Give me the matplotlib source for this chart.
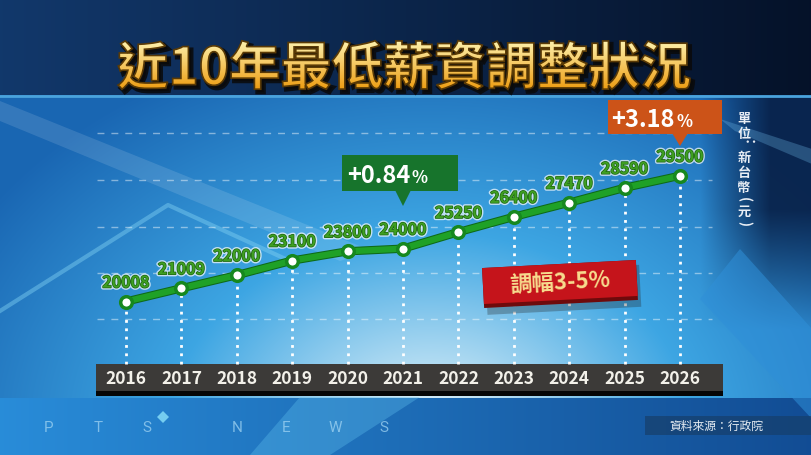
import numpy as np
import matplotlib
matplotlib.use("Agg")
import matplotlib.pyplot as plt
import matplotlib.patheffects as pe
from matplotlib.patches import Rectangle, Polygon, PathPatch
from matplotlib.textpath import TextPath
from matplotlib.font_manager import FontProperties
from matplotlib.transforms import Affine2D

plt.rcParams['font.family'] = ['Noto Sans CJK TC', 'DejaVu Sans']

# ---- data ----
years = [2016, 2017, 2018, 2019, 2020, 2021, 2022, 2023, 2024, 2025, 2026]
wages = [20008, 21009, 22000, 23100, 23800, 24000, 25250, 26400, 27470, 28590, 29500]
year_labels = [str(y) for y in years]

title = "近10年最低薪資調整狀況"
green_year, green_text = 2021, "+0.84"
orange_year, orange_text = 2026, "+3.18"
range_text = "調幅3-5%"
unit_chars = ["單", "位", "：", "新", "台", "幣", "(", "元", ")"]
source_text = "資料來源：行政院"
brand_letters = ["P", "T", "S", "N", "E", "W", "S"]

W, H = 812, 456
fig = plt.figure(figsize=(W / 100, H / 100), dpi=100)


def pixel_axes():
    a = fig.add_axes([0, 0, 1, 1])
    a.set_xlim(0, W)
    a.set_ylim(H, 0)
    a.axis("off")
    a.patch.set_alpha(0)
    return a


bg = pixel_axes()

# ---- background gradient ----
yy, xx = np.mgrid[0:H, 0:W].astype(float)
light = np.array([0.93, 0.97, 0.98])
mid = np.array([0.24, 0.65, 0.89])
deep = np.array([0.10, 0.40, 0.70])
d = np.sqrt(((xx - 430) / 450) ** 2 + ((yy - 430) / 340) ** 2)
t1 = np.clip(d / 0.58, 0, 1)[..., None]
t2 = np.clip((d - 0.58) / 0.6, 0, 1)[..., None]
img = light * (1 - t1) + mid * t1
img = img * (1 - t2) + deep * t2
# dark right edge
navy = np.array([0.03, 0.12, 0.27])
r = (np.clip((xx - 700) / 70, 0, 1) * np.clip((330 - yy) / 120, 0, 1))[..., None]
img = img * (1 - 0.9 * r) + navy * 0.9 * r
# bottom strip
fx = xx[..., None] / W
bot = np.array([0.16, 0.55, 0.85]) * (1 - fx) + np.array([0.07, 0.30, 0.58]) * fx
img = np.where((yy > 398)[..., None], bot, img)
# top band
top = np.array([0.07, 0.22, 0.42]) * (1 - fx) + np.array([0.02, 0.07, 0.16]) * fx
img = np.where((yy < 96)[..., None], top, img)
bg.imshow(img, extent=[0, W, H, 0], aspect="auto", zorder=0)
bg.plot([0, W], [97, 97], color="#4aa3dc", lw=2, zorder=1)

# streaks
bg.add_patch(Polygon([(0, 102), (0, 122), (340, 262), (372, 252)], closed=True,
                     facecolor="white", alpha=0.12, lw=0, zorder=1))
bg.plot([0, 168, 290], [312, 206, 262], color="#7fd0f2", lw=3, alpha=0.45, zorder=1)
bg.add_patch(Polygon([(720, 120), (812, 150), (812, 165), (735, 132)], closed=True,
                     facecolor="#6fb8e8", alpha=0.3, lw=0, zorder=1))
bg.add_patch(Polygon([(740, 250), (812, 330), (812, 420), (700, 300)], closed=True,
                     facecolor="#2f8fd8", alpha=0.55, lw=0, zorder=1))
bg.add_patch(Polygon([(300, 398), (420, 398), (330, 456), (250, 456)], closed=True,
                     facecolor="#5fc0ee", alpha=0.35, lw=0, zorder=1))

# horizontal dashed guides
for gy in [134, 181, 228, 274, 320]:
    bg.plot([97, 712], [gy, gy], color="white", lw=1, ls=(0, (5, 5)), alpha=0.45, zorder=2)

# ---- title with gold gradient ----
fp = FontProperties(family="Noto Sans CJK TC", weight="bold")
tp = TextPath((0, 0), title, size=50, prop=fp)
ext = tp.get_extents()
sc = 572 / ext.width
tx = 404 - (ext.x0 + ext.width / 2) * sc
ty = 66 + (ext.y0 + ext.height / 2) * sc
tr = Affine2D().scale(sc, -sc).translate(tx, ty)
shadow = PathPatch(tp, transform=tr + Affine2D().translate(3, 3) + bg.transData,
                   facecolor="#0a0a0a", edgecolor="#0a0a0a", lw=3, alpha=0.85, zorder=3)
bg.add_patch(shadow)
tpatch = PathPatch(tp, transform=tr + bg.transData, facecolor="none",
                   edgecolor="#5a3a05", lw=1.2, zorder=5)
bg.add_patch(tpatch)
grad = np.linspace(0, 1, 60)[:, None]
c_top = np.array([1.0, 0.97, 0.72])
c_bot = np.array([0.93, 0.62, 0.08])
gimg = (c_top * (1 - grad[..., None]) + c_bot * grad[..., None]) * np.ones((1, 2, 1))
gi = bg.imshow(gimg, extent=[100, 710, 90, 38], aspect="auto", zorder=4)
gi.set_clip_path(tpatch)

# year bar
bg.add_patch(Rectangle((96, 366), 627, 31, facecolor="#060606", lw=0, zorder=3))
bg.add_patch(Rectangle((96, 365), 627, 27, facecolor="#3c3a38", lw=0, zorder=3))

# ---- data axes ----
x_per_year = 55.4
slope = 0.013252


def v_at(py):
    return 24648 + (241.06 - py) / slope


ax = fig.add_axes([0, 0, 1, 1])
ax.patch.set_alpha(0)
ax.set_xlim(2016 - 126 / x_per_year, 2016 + (W - 126) / x_per_year)
ax.set_ylim(v_at(H), v_at(0))
ax.axis("off")

ax.vlines(years, v_at(365), wages, colors="white", linestyles=(0, (1, 2)), lw=2, zorder=3)

for yr, lab in zip(years, year_labels):
    ax.text(yr, v_at(379), lab, ha="center", va="center", fontsize=12.5,
            weight="bold", color="#f3f1ea", zorder=6)

ax.plot(years, wages, color="#1fa127", lw=4.5, solid_capstyle="round", zorder=4,
        path_effects=[pe.Stroke(linewidth=6, foreground="#0e6a18"), pe.Normal()])
ax.scatter(years, wages, s=70, facecolor="white", edgecolor="#16881e", lw=2.5, zorder=5)

for yr, w in zip(years, wages):
    ax.annotate(f"{w}", (yr, w), xytext=(0, 19), textcoords="offset pixels",
                ha="center", va="center", fontsize=11.5, weight="bold", color="#3f9f22",
                zorder=6,
                path_effects=[pe.Stroke(linewidth=3, foreground="white", alpha=0.7),
                              pe.Stroke(linewidth=1.0, foreground="#1c6410"),
                              pe.Normal()])

# ---- overlay: callouts, tag, labels ----
fg = pixel_axes()


def callout(yr, text, color, box, tip_y, base_y):
    px = 126 + (yr - 2016) * x_per_year
    x0, y0, bw, bh = box
    fg.add_patch(Rectangle((x0, y0), bw, bh, facecolor=color, lw=0, zorder=6))
    fg.add_patch(Polygon([(px - 8, y0 + bh - 1), (px + 8, y0 + bh - 1), (px, tip_y)],
                         closed=True, facecolor=color, lw=0, zorder=6))
    cx = x0 + bw / 2 + 10
    fg.text(cx, base_y, text, ha="right", va="baseline", fontsize=17,
            weight="bold", color="white", zorder=7)
    fg.text(cx + 2, base_y, "%", ha="left", va="baseline", fontsize=12,
            weight="bold", color="white", zorder=7)


callout(green_year, green_text, "#17742c", (342, 156, 116, 36), 207, 183)
callout(orange_year, orange_text, "#cc5318", (608, 101, 114, 34), 147, 127)

# red range tag
rcx, rcy = 560, 285
rot = Affine2D().rotate_deg_around(rcx, rcy, -3) + fg.transData
fg.add_patch(Rectangle((rcx - 76, rcy - 18), 154, 42, facecolor="#222", alpha=0.3,
                       lw=0, transform=Affine2D().translate(2, 3) + rot, zorder=6))
fg.add_patch(Rectangle((rcx - 77, rcy - 20), 154, 40, facecolor="#6e0a0c", lw=0,
                       transform=rot, zorder=6))
fg.add_patch(Rectangle((rcx - 77, rcy - 20), 154, 36, facecolor="#c5141b", lw=0,
                       transform=rot, zorder=6))
fg.text(rcx, rcy - 2, range_text, ha="center", va="center", rotation=3,
        rotation_mode="anchor", fontsize=16, weight="bold", color="#f7dc8e", zorder=7)

# unit label (vertical)
uy = 119
for ch in unit_chars:
    small = ch in ("：", "(", ")")
    if small:
        uy -= 3
        fg.text(744, uy, ch, ha="center", va="center", fontsize=9.5, rotation=-90,
                color="#e9eef5", weight="bold", zorder=6)
        uy += 12
    else:
        fg.text(744, uy, ch, ha="center", va="center", fontsize=9.5,
                color="#e9eef5", weight="bold", zorder=6)
        uy += 15

# footer
bx = 49
for i, ch in enumerate(brand_letters):
    fg.text(bx, 428, ch, ha="center", va="center", fontsize=11, color="#9fd3f2",
            alpha=0.75, family="Roboto", zorder=6)
    bx += 49 if i != 2 else 90
fg.add_patch(Polygon([(157, 418), (163, 412), (169, 418), (163, 424)], closed=True,
                     facecolor="#7fd6f5", lw=0, alpha=0.9, zorder=6))

fg.add_patch(Rectangle((645, 417), 167, 19, facecolor="#16406e", alpha=0.75, lw=0, zorder=6))
fg.text(716, 426.5, source_text, ha="center", va="center", fontsize=8.5,
        color="#e8eef4", zorder=7)

fig.savefig("out.png", dpi=100)
